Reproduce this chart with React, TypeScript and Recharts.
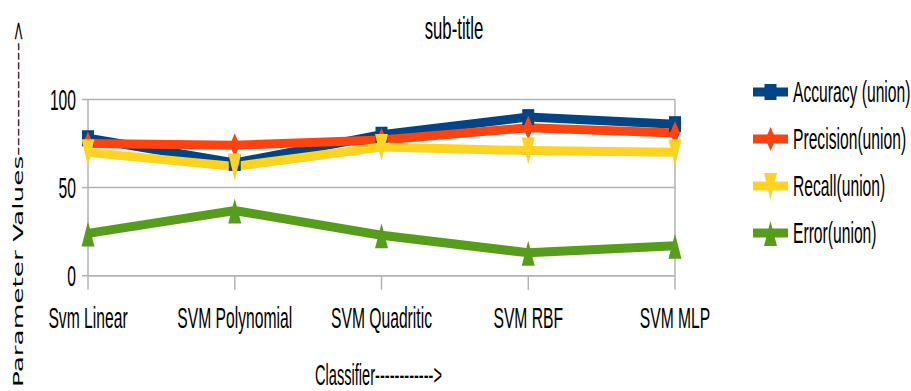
import { CartesianGrid, Legend, Line, LineChart, XAxis, YAxis } from "recharts";

const CLASSIFIERS = ["Svm Linear", "SVM Polynomial", "SVM Quadritic", "SVM RBF", "SVM MLP"];
const ACCURACY = [78, 64, 80, 90, 86];
const PRECISION = [75, 74, 77, 84, 81];
const RECALL = [70, 62, 73, 71, 70];
const ERROR = [24, 37, 23, 13, 17];
const Y_TICKS = [0, 50, 100];

const FONT = '"Liberation Sans", Arial, sans-serif';
const SQUASH = 0.54;
const GRID = "#b3b3b3";

type Shape = "square" | "diamond" | "down" | "up";

const SERIES: { key: string; name: string; color: string; shape: Shape }[] = [
  { key: "accuracy", name: "Accuracy (union)", color: "#004586", shape: "square" },
  { key: "precision", name: "Precision(union)", color: "#ff420e", shape: "diamond" },
  { key: "recall", name: "Recall(union)", color: "#ffd320", shape: "down" },
  { key: "error", name: "Error(union)", color: "#579d1c", shape: "up" },
];

const data = CLASSIFIERS.map((c, i) => ({
  name: c,
  accuracy: ACCURACY[i],
  precision: PRECISION[i],
  recall: RECALL[i],
  error: ERROR[i],
}));

function marker(shape: Shape, cx: number, cy: number, color: string, key?: string | number) {
  if (shape === "square") return <rect key={key} x={cx - 6} y={cy - 8} width={12} height={16} fill={color} />;
  if (shape === "diamond")
    return <polygon key={key} points={`${cx},${cy - 12} ${cx + 5},${cy} ${cx},${cy + 12} ${cx - 5},${cy}`} fill={color} />;
  if (shape === "down")
    return <polygon key={key} points={`${cx - 6.5},${cy - 13} ${cx + 6.5},${cy - 13} ${cx},${cy + 14}`} fill={color} />;
  return <polygon key={key} points={`${cx},${cy - 12} ${cx + 6.5},${cy + 13} ${cx - 6.5},${cy + 13}`} fill={color} />;
}

function XTick(props: any) {
  const { x, y, payload } = props;
  return (
    <g transform={`translate(${x},${y})`}>
      <text transform={`scale(${SQUASH},1)`} y={36} textAnchor="middle" fontFamily={FONT} fontSize={29} fill="#000">
        {payload.value}
      </text>
    </g>
  );
}

function YTick(props: any) {
  const { x, y, payload } = props;
  return (
    <g transform={`translate(${x},${y})`}>
      <text transform={`scale(${SQUASH},1)`} y={10.5} textAnchor="end" fontFamily={FONT} fontSize={29} fill="#000">
        {payload.value}
      </text>
    </g>
  );
}

function LegendBox() {
  return (
    <svg width={166} height={190}>
      {SERIES.map((s, i) => {
        const cy = 22 + i * 47;
        return (
          <g key={s.key}>
            <line x1={8} x2={43} y1={cy} y2={cy} stroke={s.color} strokeWidth={9} />
            {marker(s.shape, 25.5, cy, s.color)}
            <text
              transform={`translate(48,${cy + 10.4}) scale(${SQUASH},1)`}
              fontFamily={FONT}
              fontSize={29}
              fill="#000"
            >
              {s.name}
            </text>
          </g>
        );
      })}
    </svg>
  );
}

export default function App() {
  return (
    <div style={{ position: "absolute", left: 0, top: 0, width: 911, height: 391, background: "#fff" }}>
      <LineChart width={911} height={391} data={data} margin={{ top: 99.5, right: 226, bottom: 85.3, left: 28 }}>
        <CartesianGrid vertical={false} stroke={GRID} strokeWidth={1.5} />
        <XAxis
          dataKey="name"
          interval={0}
          height={30}
          padding={{ left: 0, right: 0 }}
          axisLine={{ stroke: GRID, strokeWidth: 1.5 }}
          tickLine={{ stroke: GRID, strokeWidth: 1.5 }}
          tickSize={14}
          tickMargin={2}
          tick={<XTick />}
        />
        <YAxis
          domain={[0, 100]}
          ticks={Y_TICKS}
          width={60}
          axisLine={{ stroke: GRID, strokeWidth: 1.5 }}
          tickLine={{ stroke: GRID, strokeWidth: 1.5 }}
          tickSize={6}
          tickMargin={6}
          tick={<YTick />}
        />
        <YAxis
          yAxisId="right"
          orientation="right"
          width={10}
          axisLine={{ stroke: GRID, strokeWidth: 1.5 }}
          tick={false}
          tickLine={false}
        />
        {SERIES.map((s) => (
          <Line
            key={s.key}
            isAnimationActive={false}
            type="linear"
            dataKey={s.key}
            name={s.name}
            stroke={s.color}
            strokeWidth={9}
            dot={(p: any) => marker(s.shape, p.cx, p.cy, s.color, p.index)}
            activeDot={false}
          />
        ))}
        <Legend
          layout="vertical"
          align="center"
          verticalAlign="middle"
          content={() => <LegendBox />}
          wrapperStyle={{ left: 745, top: 70, width: 166, height: 190 }}
        />
      </LineChart>
      <svg width={911} height={391} style={{ position: "absolute", left: 0, top: 0, pointerEvents: "none" }}>
        <text transform={`translate(454,39) scale(${SQUASH},1)`} textAnchor="middle" fontFamily={FONT} fontSize={31} fill="#000">
          sub-title
        </text>
        <text
          x={315}
          y={385}
          textLength={127}
          lengthAdjust="spacingAndGlyphs"
          fontFamily={FONT}
          fontSize={29}
          fill="#000"
        >
          {"Classifier------------>"}
        </text>
        <text
          transform={`translate(23.3,387) scale(${SQUASH},1) rotate(-90)`}
          textLength={367}
          lengthAdjust="spacingAndGlyphs"
          fontFamily="'DejaVu Sans', sans-serif"
          fontSize={26}
          fill="#000"
        >
          {"Parameter Values------------>"}
        </text>
      </svg>
    </div>
  );
}
